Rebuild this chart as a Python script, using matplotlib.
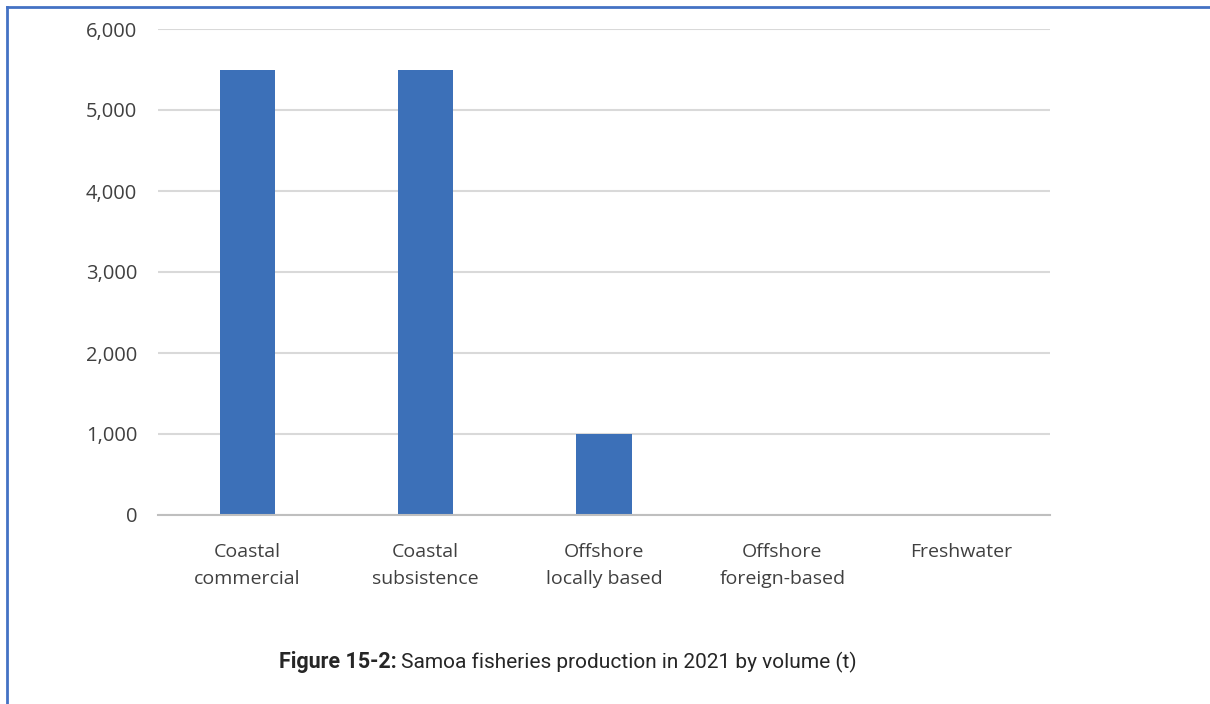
import matplotlib
matplotlib.use("Agg")
import matplotlib.pyplot as plt
from matplotlib.lines import Line2D

categories = ["Coastal\ncommercial", "Coastal\nsubsistence", "Offshore\nlocally based",
              "Offshore\nforeign-based", "Freshwater"]
values = [5500, 5500, 1000, 0, 0]
yticks = [0, 1000, 2000, 3000, 4000, 5000, 6000]
caption_bold = "Figure 15-2:"
caption_rest = "Samoa fisheries production in 2021 by volume (t)"

plt.rcParams['font.family'] = ['Open Sans', 'DejaVu Sans']

fig = plt.figure(figsize=(12.10, 7.04), dpi=100)
ax = fig.add_axes([158/1210, 1-515/704, (1050-158)/1210, (515-29)/704])

x = list(range(len(categories)))
ax.bar(x, values, width=0.31, color="#3C70B8", zorder=3)
ax.set_xlim(-0.5, len(categories)-0.5)
ax.set_ylim(0, 6000)
ax.set_yticks(yticks)
ax.set_yticklabels([f"{v:,}" for v in yticks], fontsize=14.5, color="#404040")
ax.set_xticks(x)
ax.set_xticklabels(categories, fontsize=14, color="#404040", linespacing=1.65)
ax.tick_params(axis='both', length=0)
ax.tick_params(axis='y', pad=15)
ax.tick_params(axis='x', pad=20)
ax.grid(axis='y', color="#D9D9D9", linewidth=1.5, zorder=0)
for s in ["top", "right", "left"]:
    ax.spines[s].set_visible(False)
ax.spines["bottom"].set_color("#BFBFBF")
ax.spines["bottom"].set_linewidth(1.5)
ax.spines["bottom"].set_zorder(4)

# caption
cap_y = 1 - 662/704
fig.text(397/1210, cap_y, caption_bold, ha='right', va='center', fontsize=15.5,
         fontweight='bold', family=['Roboto', 'DejaVu Sans'], color="#262626")
fig.text(401/1210, cap_y, caption_rest, ha='left', va='center', fontsize=15,
         family=['Roboto', 'DejaVu Sans'], color="#262626")

# page frame lines (left and top)
fig.add_artist(Line2D([7/1210, 7/1210], [0, 1-7/704], transform=fig.transFigure,
                      color="#4472C4", linewidth=2))
fig.add_artist(Line2D([7/1210, 1], [1-7/704, 1-7/704], transform=fig.transFigure,
                      color="#4472C4", linewidth=2))

fig.savefig("out.png", dpi=100, facecolor="white")
